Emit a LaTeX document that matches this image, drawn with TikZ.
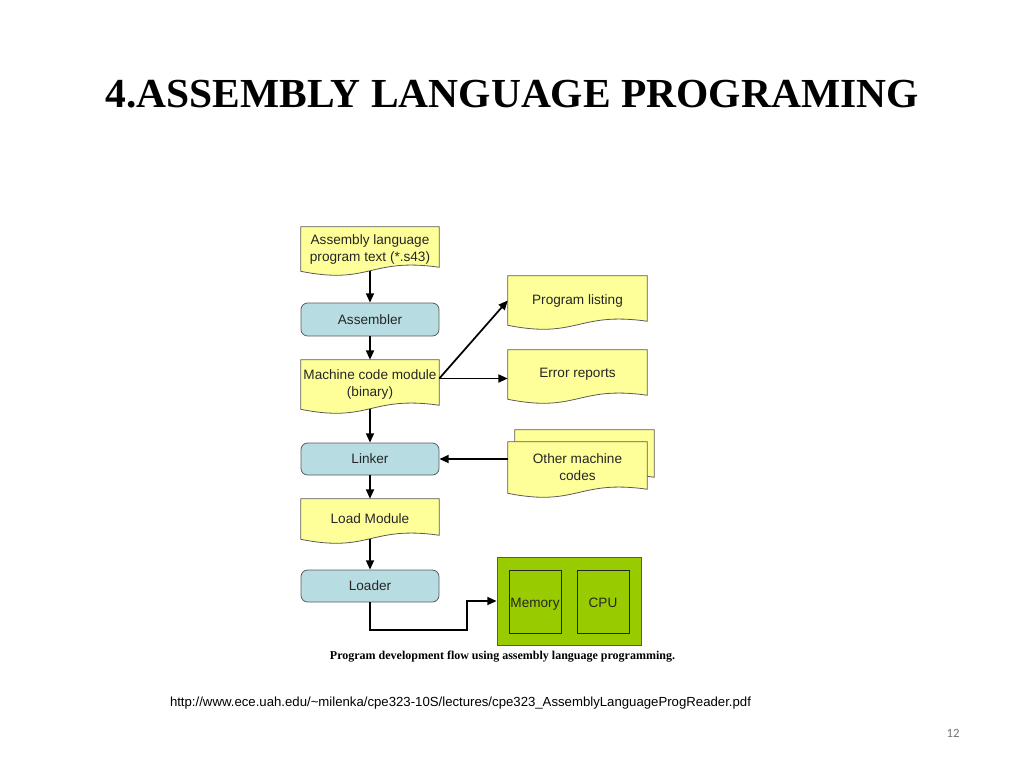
\documentclass[tikz,border=0pt]{standalone}
\usepackage{fontspec}
\setmainfont{Liberation Sans}
\newfontfamily\serifb{Liberation Serif}
\newfontfamily\carl{Carlito}
\usetikzlibrary{arrows.meta,calc,backgrounds}
\definecolor{docyellow}{RGB}{255,255,153}
\definecolor{procblue}{RGB}{183,221,226}
\definecolor{hwgreen}{RGB}{153,204,0}
\definecolor{hwedge}{RGB}{80,110,0}
\definecolor{edgegray}{RGB}{90,90,90}
\newcommand\docpath[1]{(#1.north west) -- (#1.north east) -- ($(#1.south east)+(0,-4)$) .. controls ($(#1.south)+(0,-14)$) and ($(#1.south)+(0,14)$) .. (#1.south west) -- cycle}
\begin{document}
\begin{tikzpicture}[x=0.75pt,y=-0.75pt,
  txt/.style={font=\fontsize{10.2}{12.75}\selectfont, text=black!85, align=center, inner sep=0pt},
  docnode/.style={txt, minimum width=103.5pt},
  proc/.style={txt, rectangle, rounded corners=5pt, draw=edgegray, fill=procblue, line width=0.6pt, minimum width=103.5pt, minimum height=24pt},
  hwbox/.style={txt, rectangle, draw=black!85, fill=hwgreen, line width=0.6pt, text height=10pt, text depth=0.5pt},
  flow/.style={-{Triangle[length=7pt,width=6pt]}, line width=1.3pt, black},
  docshape/.style={fill=docyellow, draw=edgegray, line width=0.6pt}
]
\useasboundingbox (0,0) rectangle (1024,768);

% title
\node[anchor=base] (title) at (512,107) {\resizebox{609.75pt}{20.5pt}{\serifb\bfseries 4.ASSEMBLY LANGUAGE PROGRAMING}};

% main column
\node[docnode, minimum height=33pt] (src) at (370,249) {Assembly language\\program text (*.s43)};
\node[proc, minimum height=24.75pt] (asm) at (370,319.5) {Assembler};
\node[docnode, minimum height=36.75pt] (mcm) at (370,384.5) {Machine code module\\(binary)};
\node[proc] (lnk) at (370,459) {Linker};
\node[docnode, minimum height=30pt] (lm) at (370,519) {Load Module};
\node[proc] (ldr) at (370,586) {Loader};

% right column
\node[docnode, minimum width=104.25pt, minimum height=36.75pt] (pl) at (577.5,300.5) {Program listing};
\node[docnode, minimum width=104.25pt, minimum height=36.75pt] (er) at (577.5,374.5) {Error reports};
\node[docnode, minimum width=104.25pt, minimum height=38.25pt] (omcb) at (584.5,455.5) {};
\node[docnode, minimum width=104.25pt, minimum height=38.25pt] (omc) at (577.5,467.5) {Other machine\\codes};

% hardware
\node[rectangle, draw=hwedge, fill=hwgreen, line width=0.6pt, minimum width=108pt, minimum height=66pt] (hw) at (569,601) {};
\node[hwbox, minimum width=39pt, minimum height=47.25pt] (mem) at (535,601.5) {Memory};
\node[hwbox, minimum width=39pt, minimum height=47.25pt] (cpu) at (603,601.5) {CPU};

% document shapes
\begin{scope}[on background layer]
  \path[docshape] \docpath{src};
  \path[docshape] \docpath{mcm};
  \path[docshape] \docpath{lm};
  \path[docshape] \docpath{pl};
  \path[docshape] \docpath{er};
  \path[docshape] \docpath{omcb};
  \path[docshape] \docpath{omc};
\end{scope}

% connectors
\draw[flow] (src.south) -- (asm.north);
\draw[flow] (asm.south) -- (mcm.north);
\draw[flow] (mcm.south) -- (lnk.north);
\draw[flow] (lnk.south) -- (lm.north);
\draw[flow] (lm.south) -- (ldr.north);
\coordinate (mo) at ([yshift=4.5pt]mcm.east);
\draw[flow] (mo) -- (pl.west);
\draw[flow] (mo) -- (mo -| er.west);
\draw[flow] (omc.west |- lnk.east) -- (lnk.east);
\coordinate (bend) at (467,630);
\draw[flow] (ldr.south) |- (bend) |- (hw.west);

% caption, source, page number
\node (cap) at (502.5,657) {\resizebox{258.75pt}{!}{\serifb\bfseries Program development flow using assembly language programming.}};
\node (url) at (460.5,703) {\resizebox{435.75pt}{!}{\fontsize{10}{12}\selectfont http://www.ece.uah.edu/\textasciitilde milenka/cpe323-10S/lectures/cpe323\_AssemblyLanguageProgReader.pdf}};
\node[text=black!55] (pg) at (953,733) {\carl\fontsize{9.5}{11}\selectfont 12};
\end{tikzpicture}
\end{document}
